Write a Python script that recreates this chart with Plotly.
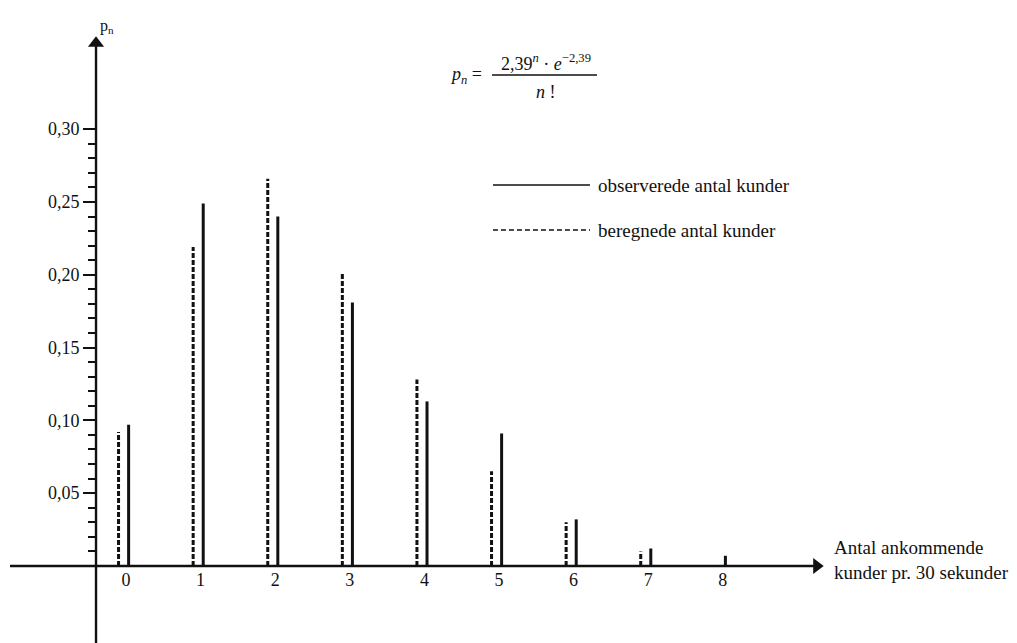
import plotly.graph_objects as go

# ---- data ----
n_values = [0, 1, 2, 3, 4, 5, 6, 7, 8]
tick_labels = ["0", "1", "2", "3", "4", "5", "6", "7", "8"]
observed = [0.097, 0.249, 0.240, 0.181, 0.113, 0.091, 0.032, 0.012, 0.007]
calculated = [0.092, 0.219, 0.266, 0.201, 0.128, 0.065, 0.030, 0.010, None]
y_major = [0.05, 0.10, 0.15, 0.20, 0.25, 0.30]
y_minor = [round(i * 0.01, 2) for i in range(1, 30) if i % 5 != 0]

# ---- geometry (page has an 8px body margin) ----
PAD = 8
W, H = 1017 - PAD, 643 - PAD
X_RANGE = [-1.582, 11.944]
Y_RANGE = [-0.0529, 0.3832]
Y_AXIS_X = -0.402          # where the vertical axis crosses
X_AXIS_START = -1.555
X_AXIS_END = 9.343
Y_AXIS_TOP = 0.3633
OFF_CALC = -0.10
OFF_OBS = 0.035
PX_X = W / (X_RANGE[1] - X_RANGE[0])   # pixels per x unit
PX_Y = H / (Y_RANGE[1] - Y_RANGE[0])   # pixels per y unit
HEAD = 14                               # arrowhead size, px

FONT = "Liberation Serif"
INK = "#111111"


def sx(px):
    return (px - PAD) / W


def sy(py):
    return 1 - (py - PAD) / H


def stems(xs, ys, off):
    px, py = [], []
    for x, y in zip(xs, ys):
        if y is None:
            continue
        px += [x + off, x + off, None]
        py += [0, y, None]
    return px, py


fig = go.Figure()
cx, cy = stems(n_values, calculated, OFF_CALC)
fig.add_trace(go.Scatter(x=cx, y=cy, mode="lines", name="beregnede antal kunder",
                         line=dict(color=INK, width=3, dash="5px,2px"),
                         hoverinfo="skip", showlegend=False))
ox, oy = stems(n_values, observed, OFF_OBS)
fig.add_trace(go.Scatter(x=ox, y=oy, mode="lines", name="observerede antal kunder",
                         line=dict(color=INK, width=3),
                         hoverinfo="skip", showlegend=False))

# axis lines
fig.add_shape(type="line", xref="x", yref="y", x0=X_AXIS_START, x1=X_AXIS_END - HEAD / 2 / PX_X,
              y0=0, y1=0, line=dict(color=INK, width=2.4))
fig.add_shape(type="line", xref="x", yref="y", x0=Y_AXIS_X, x1=Y_AXIS_X,
              y0=Y_RANGE[0], y1=Y_AXIS_TOP - HEAD / 2 / PX_Y, line=dict(color=INK, width=2.4))
# arrowheads
fig.add_trace(go.Scatter(x=[X_AXIS_END - HEAD * 0.45 / PX_X], y=[0], mode="markers",
                         marker=dict(symbol="triangle-right", size=HEAD, color=INK),
                         hoverinfo="skip", showlegend=False))
fig.add_trace(go.Scatter(x=[Y_AXIS_X], y=[Y_AXIS_TOP - HEAD * 0.45 / PX_Y], mode="markers",
                         marker=dict(symbol="triangle-up", size=HEAD, color=INK),
                         hoverinfo="skip", showlegend=False))

xpos_paper = (Y_AXIS_X - X_RANGE[0]) / (X_RANGE[1] - X_RANGE[0])
ypos_paper = (0 - Y_RANGE[0]) / (Y_RANGE[1] - Y_RANGE[0])

fig.update_layout(
    width=W, height=H,
    margin=dict(l=0, r=0, t=0, b=0),
    paper_bgcolor="white", plot_bgcolor="white",
    separators=",.",
    hovermode=False,
    font=dict(family=FONT, color=INK),
    xaxis=dict(range=X_RANGE, domain=[0, 1], anchor="free", position=ypos_paper,
               showline=False, showgrid=False, zeroline=False, ticks="",
               tickmode="array", tickvals=n_values, ticktext=tick_labels,
               tickfont=dict(family=FONT, size=18, color=INK),
               ticklabelstandoff=1, automargin=False),
    yaxis=dict(range=Y_RANGE, domain=[0, 1], anchor="free", position=xpos_paper,
               showline=False, showgrid=False, zeroline=False,
               tickmode="array", tickvals=y_major, tickformat=".2f",
               ticks="outside", ticklen=13, tickwidth=2, tickcolor=INK,
               tickfont=dict(family=FONT, size=18, color=INK),
               minor=dict(tickmode="array", tickvals=y_minor, ticks="outside",
                          ticklen=8, tickwidth=2, tickcolor=INK, showgrid=False),
               automargin=False),
)

# axis titles
fig.add_annotation(x=sx(98), y=sy(15), xref="paper", yref="paper",
                   text="p<sub>n</sub>", showarrow=False,
                   font=dict(family=FONT, size=16, color=INK))
fig.add_annotation(x=sx(832), y=sy(560), xref="paper", yref="paper",
                   xanchor="left", yanchor="middle", align="left",
                   text="Antal ankommende<br>kunder pr. 30 sekunder", showarrow=False,
                   font=dict(family=FONT, size=19, color=INK))

# formula
fig.add_annotation(x=sx(484), y=sy(75), xref="paper", yref="paper",
                   xanchor="right", yanchor="middle",
                   text="<i>p<sub>n</sub></i> =", showarrow=False,
                   font=dict(family=FONT, size=18, color=INK))
fig.add_annotation(x=sx(546), y=sy(62), xref="paper", yref="paper",
                   xanchor="center", yanchor="middle",
                   text="2,39<sup><i>n</i></sup> · <i>e</i><sup>−2,39</sup>", showarrow=False,
                   font=dict(family=FONT, size=18, color=INK))
fig.add_shape(type="line", xref="paper", yref="paper",
              x0=sx(492), x1=sx(597), y0=sy(75), y1=sy(75),
              line=dict(color=INK, width=1.5))
fig.add_annotation(x=sx(546), y=sy(92), xref="paper", yref="paper",
                   xanchor="center", yanchor="middle",
                   text="<i>n</i> !", showarrow=False,
                   font=dict(family=FONT, size=18, color=INK))

# legend (drawn)
legend_items = [("observerede antal kunder", "solid", 185),
                ("beregnede antal kunder", "5px,3px", 230)]
for label, dash, ypx in legend_items:
    fig.add_shape(type="line", xref="paper", yref="paper",
                  x0=sx(493), x1=sx(590), y0=sy(ypx), y1=sy(ypx),
                  line=dict(color=INK, width=1.6, dash=dash))
    fig.add_annotation(x=sx(596), y=sy(ypx), xref="paper", yref="paper",
                       xanchor="left", yanchor="middle", text=label, showarrow=False,
                       font=dict(family=FONT, size=19, color=INK))

fig.write_html("out.html")
